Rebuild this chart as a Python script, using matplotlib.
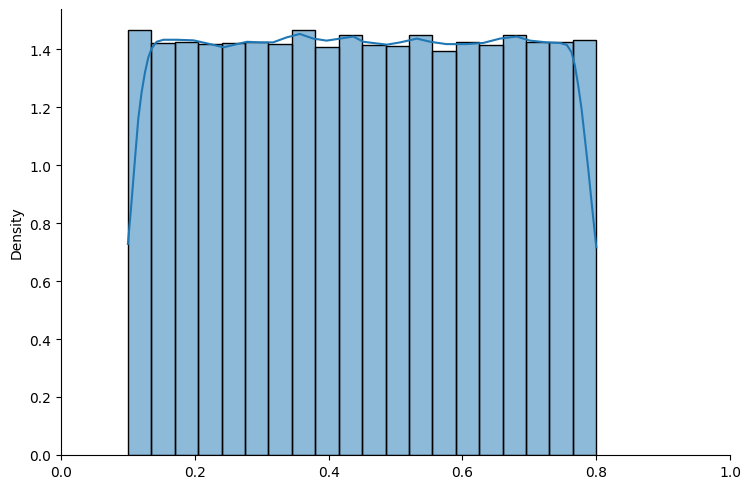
import numpy as np
import matplotlib
matplotlib.use("Agg")
import matplotlib.pyplot as plt

# bin edges and densities of the histogram (20 bins from 0.1 to 0.8)
bin_edges = np.linspace(0.1, 0.8, 21)
density = [1.467, 1.420, 1.425, 1.417, 1.421, 1.423, 1.416, 1.467, 1.406, 1.448,
           1.415, 1.412, 1.448, 1.394, 1.425, 1.413, 1.448, 1.423, 1.425, 1.430]

# kde curve
kde_x = [0.100, 0.105, 0.1106, 0.1155, 0.1205, 0.1256, 0.1305, 0.1355, 0.143, 0.153,
         0.173, 0.198, 0.223, 0.243, 0.263, 0.278, 0.298, 0.317, 0.337, 0.357,
         0.377, 0.397, 0.417, 0.437, 0.452, 0.487, 0.507, 0.532, 0.552, 0.576,
         0.606, 0.631, 0.656, 0.681, 0.701, 0.726, 0.746, 0.756, 0.763, 0.768,
         0.773, 0.778, 0.783, 0.788, 0.793, 0.800]
kde_y = [0.728, 0.860, 1.021, 1.159, 1.251, 1.320, 1.371, 1.402, 1.425, 1.432,
         1.432, 1.430, 1.417, 1.406, 1.417, 1.425, 1.423, 1.423, 1.440, 1.452,
         1.436, 1.429, 1.436, 1.443, 1.425, 1.415, 1.423, 1.436, 1.425, 1.417,
         1.417, 1.421, 1.436, 1.443, 1.429, 1.423, 1.421, 1.414, 1.389, 1.343,
         1.274, 1.193, 1.090, 0.986, 0.871, 0.716]

fig = plt.figure(figsize=(7.51, 4.89), dpi=100)
ax = fig.add_axes([0.0812, 0.0675, 0.891, 0.912])

widths = np.diff(bin_edges)
ax.bar(bin_edges[:-1], density, width=widths, align="edge",
       color="#1f77b4", alpha=0.5, edgecolor="none")
ax.bar(bin_edges[:-1], density, width=widths, align="edge",
       fill=False, edgecolor="black", linewidth=1)
ax.plot(kde_x, kde_y, color="#1f77b4", linewidth=1.5)

ax.set_xlim(0, 1)
ax.set_ylim(0, 1.538)
ax.set_ylabel("Density")
ax.spines["top"].set_visible(False)
ax.spines["right"].set_visible(False)

fig.savefig("out.png", dpi=100)
